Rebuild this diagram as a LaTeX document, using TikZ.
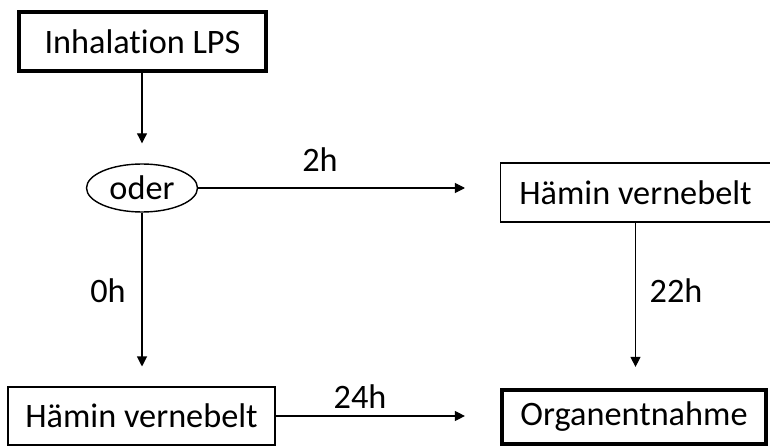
\documentclass[tikz,border=0pt]{standalone}
\usepackage{fontspec}
\setmainfont{Carlito}[Ligatures=NoCommon]
\usetikzlibrary{arrows.meta,shapes.geometric}

\tikzset{
  box/.style={draw, line width=0.6pt, inner sep=0pt},
  boldbox/.style={draw, line width=2.4pt, inner sep=0pt},
  flow/.style={-{Triangle[length=0.2cm,width=0.2cm]}, line width=0.6pt}
}

\begin{document}
\begin{tikzpicture}[x=0.02cm, y=-0.02cm, font=\fontsize{19.5}{22}\selectfont]
  \useasboundingbox (0,0) rectangle (770,446);
  \node[boldbox, minimum width=0.02cm*247, minimum height=0.02cm*59] (lps) at (142.5,41.5) {Inhalation LPS};
  \node[draw, ellipse, line width=0.8pt, minimum width=0.02cm*111, minimum height=0.02cm*48, inner sep=0pt] (oder) at (142,188) {oder};
  \node[box, minimum width=0.02cm*270, minimum height=0.02cm*59] (hvlate) at (635.5,192.5) {Hämin vernebelt};
  \node[box, minimum width=0.02cm*267, minimum height=0.02cm*58] (hvnow) at (141.5,416) {Hämin vernebelt};
  \node[boldbox, minimum width=0.02cm*264, minimum height=0.02cm*54] (organ) at (634,417) {Organentnahme};

  \draw[flow, shorten >=0.4cm] (lps.south -| oder.north) -- (oder.north);
  \draw[flow, shorten >=0.7cm] (oder.east) -- (oder.east -| hvlate.west);
  \draw[flow, shorten >=0.4cm] (oder.south) -- (oder.south |- hvnow.north);
  \draw[flow, shorten >=0.42cm] (hvlate.south) -- (hvlate.south |- organ.north);
  \draw[flow, shorten >=0.7cm] (hvnow.east) -- (hvnow.east -| organ.west);

  \node (l2h) at (320,160) {2h};
  \node (l0h) at (108,291) {0h};
  \node (l22h) at (676,291) {22h};
  \node (l24h) at (360,397) {24h};
\end{tikzpicture}
\end{document}
